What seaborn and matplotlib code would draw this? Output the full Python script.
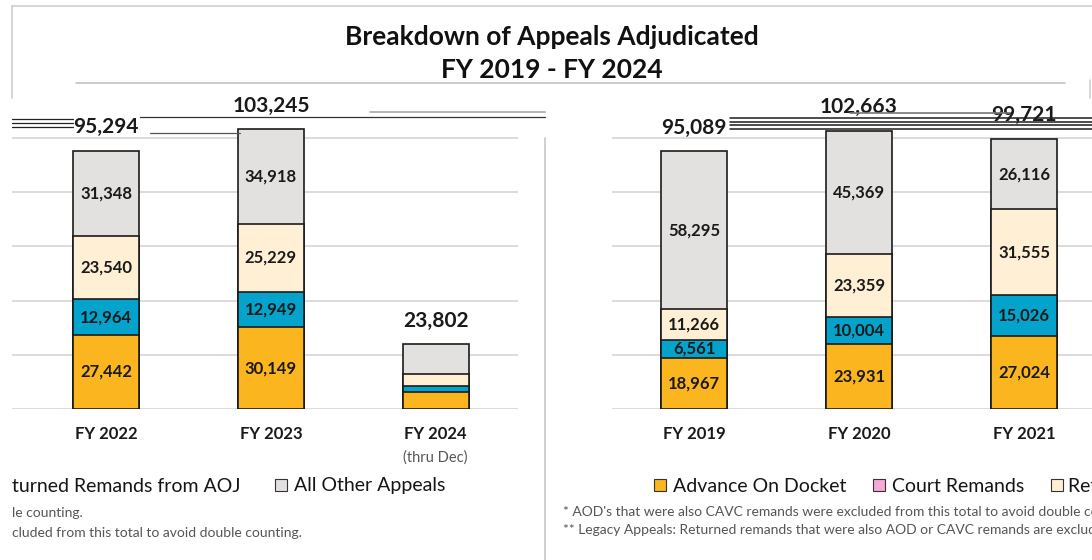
import matplotlib
matplotlib.use("Agg")
import matplotlib.pyplot as plt
from matplotlib.patches import Rectangle
from matplotlib.lines import Line2D
import seaborn as sns
import pandas as pd

# data (left half shows FY22-24, right half FY19-21)
years_left = ["FY 2022", "FY 2023", "FY 2024"]
aod_left = [27442, 30149, 6100]
court_left = [12964, 12949, 2400]
returned_left = [23540, 25229, 4500]
other_left = [31348, 34918, 10802]
labelled_left = [True, True, False]

years_right = ["FY 2019", "FY 2020", "FY 2021"]
aod_right = [18967, 23931, 27024]
court_right = [6561, 10004, 15026]
returned_right = [11266, 23359, 31555]
other_right = [58295, 45369, 26116]
labelled_right = [True, True, True]

series_names = ["Advance On Docket", "Court Remands", "Returned Remands from AOJ", "All Other Appeals"]
colors = ["#FBB51F", "#04A3CC", "#FFF0D5", "#E2E1DF"]
legend_pink = "#F5A9D6"

W, H = 1092, 560


def fx(px):
    return px / W


def fy(py):
    return 1 - py / H


sns.set_style("white")
plt.rcParams['font.family'] = ['Lato', 'DejaVu Sans']

fig = plt.figure(figsize=(W / 100, H / 100), dpi=100)
fig.patch.set_facecolor("white")


def draw_panel(rect, xlim, years, layers, labelled):
    ax = fig.add_axes(rect)
    df = pd.DataFrame({"year": years})
    cols = []
    running = [0] * len(years)
    for name, vals in zip(series_names, layers):
        running = [r + v for r, v in zip(running, vals)]
        df[name] = running
        cols.append(name)
    # tallest first, so each lower layer covers the one above it
    for name, c in reversed(list(zip(cols, colors))):
        sns.barplot(data=df, x="year", y=name, color=c, saturation=1, width=0.4,
                    edgecolor="#1b1b1b", linewidth=1.2, errorbar=None, ax=ax)
    ax.set_xlim(*xlim)
    ax.set_ylim(0, 114000)
    ax.set_yticks([0, 20000, 40000, 60000, 80000, 100000])
    ax.set_yticklabels([])
    ax.yaxis.grid(True, color="#D9D9D9", linewidth=1.3)
    ax.set_axisbelow(True)
    for s in ax.spines.values():
        s.set_visible(False)
    ax.set_xlabel("")
    ax.set_ylabel("")
    ax.tick_params(axis="x", length=0, pad=12)
    ax.tick_params(axis="y", length=0)
    for t in ax.get_xticklabels():
        t.set_fontweight("bold")
        t.set_fontsize(12)
        t.set_color("#1a1a1a")
    # segment values and totals
    for i in range(len(years)):
        bottom = 0
        for vals in layers:
            v = vals[i]
            if labelled[i]:
                ax.text(i, bottom + v / 2, f"{v:,}", ha="center", va="center",
                        fontsize=12, fontweight="bold", color="#1a1a1a")
            bottom += v
        ax.annotate(f"{bottom:,}", xy=(i, bottom), xytext=(0, 17),
                    textcoords="offset points", ha="center", va="center",
                    fontsize=15, fontweight="bold", color="#1a1a1a")
    return ax


ax_left = draw_panel([fx(12), fy(409), fx(518 - 12), 309 / H], (-0.572, 2.5), years_left,
                     [aod_left, court_left, returned_left, other_left], labelled_left)
ax_left.annotate("(thru Dec)", xy=(2, 0), xycoords=ax_left.get_xaxis_transform(),
                 xytext=(0, -35), textcoords="offset points", ha="center", va="center",
                 fontsize=10.5, color="#555555")

ax_right = draw_panel([fx(612), fy(409), fx(1092 - 612), 309 / H], (-0.497, 2.412), years_right,
                      [aod_right, court_right, returned_right, other_right], labelled_right)

# title box
fig.text(fx(552), fy(37), "Breakdown of Appeals Adjudicated", ha="center", va="center",
         fontsize=19, fontweight="bold", color="#111111")
fig.text(fx(552), fy(70), "FY 2019 - FY 2024", ha="center", va="center",
         fontsize=19, fontweight="bold", color="#111111")


def hline(y, x0, x1, color, lw=1.0):
    fig.add_artist(Line2D([fx(x0), fx(x1)], [fy(y), fy(y)], color=color, linewidth=lw))


def vline(x, y0, y1, color, lw=1.0):
    fig.add_artist(Line2D([fx(x), fx(x)], [fy(y0), fy(y1)], color=color, linewidth=lw))


hline(6, 12, 1092, "#CFCFCF", 1.2)
vline(12, 6, 98, "#CFCFCF", 1.2)
hline(83, 76, 1065, "#C4C4C4", 1.2)
vline(1090, 80, 98, "#CFCFCF", 1.2)
vline(545, 138, 560, "#D0D0D0", 1.4)

# broken total line traces
for y in (119, 123, 127):
    hline(y, 12, 73, "#222222", 0.9)
hline(117, 140, 545, "#333333", 0.9)
hline(112, 370, 545, "#A8A8A8", 1.2)
hline(133, 150, 240, "#555555", 0.9)
for y in (118, 121.5, 125, 128.5):
    hline(y, 730, 1092, "#1c1c1c", 1.1)
hline(113, 850, 1010, "#777777", 1.2)

# legend (split across the two halves)
def swatch(x, color):
    fig.add_artist(Rectangle((fx(x), fy(491)), 12 / W, 12 / H, facecolor=color,
                             edgecolor="#333333", linewidth=0.8))


leg_kw = dict(ha="left", va="center", fontsize=14, color="#151515")
fig.text(fx(12), fy(486), "turned Remands from AOJ", **leg_kw)
swatch(275, colors[3])
fig.text(fx(294), fy(486), "All Other Appeals", **leg_kw)
swatch(654, colors[0])
fig.text(fx(673), fy(486), "Advance On Docket", **leg_kw)
swatch(873, legend_pink)
fig.text(fx(892), fy(486), "Court Remands", **leg_kw)
swatch(1051, colors[2])
fig.text(fx(1068), fy(486), "Returned Remands from AOJ", **leg_kw)

# footnotes
note_kw = dict(ha="left", va="center", fontsize=10, color="#555555")
fig.text(fx(563), fy(512), "* AOD's that were also CAVC remands were excluded from this total to avoid double counting.", **note_kw)
fig.text(fx(563), fy(530), "** Legacy Appeals: Returned remands that were also AOD or CAVC remands are excluded from this total to avoid double counting.", **note_kw)
fig.text(fx(12), fy(513), "le counting.", **note_kw)
fig.text(fx(12), fy(533), "cluded from this total to avoid double counting.", **note_kw)

fig.savefig("out.png", dpi=100, facecolor="white")
